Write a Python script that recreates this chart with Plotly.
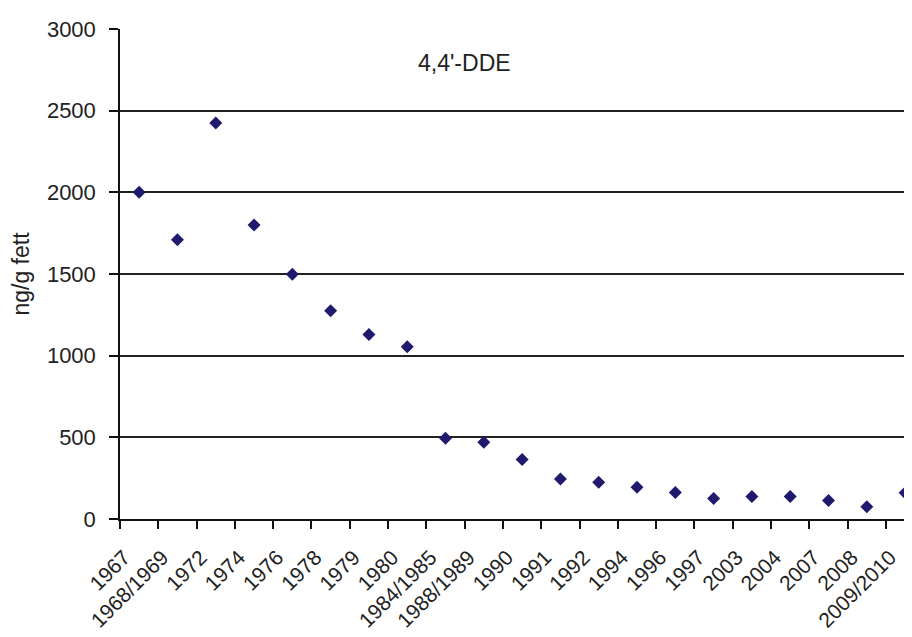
import plotly.graph_objects as go

categories = ["1967", "1968/1969", "1972", "1974", "1976", "1978", "1979", "1980",
              "1984/1985", "1988/1989", "1990", "1991", "1992", "1994", "1996", "1997",
              "2003", "2004", "2007", "2008", "2009/2010"]
dde_values = [2000, 1710, 2425, 1800, 1498, 1275, 1130, 1055,
              495, 470, 365, 245, 225, 195, 163, 125,
              137, 137, 113, 75, 160]
y_ticks = [0, 500, 1000, 1500, 2000, 2500, 3000]

FONT = "Liberation Sans, Arial, sans-serif"
TXT = "#222222"

fig = go.Figure()
fig.add_trace(go.Scatter(
    x=categories, y=dde_values, mode="markers",
    marker=dict(symbol="diamond", size=10, color="#1f1a6e", line=dict(width=0)),
    showlegend=False,
))

# page body has an 8px margin, so the figure is sized to end at the window edge
fig.update_layout(
    width=904, height=629,
    margin=dict(l=112, r=0, t=21, b=118, autoexpand=False),
    paper_bgcolor="white", plot_bgcolor="white",
    font=dict(family=FONT, size=21, color=TXT),
    xaxis=dict(
        type="category", categoryorder="array", categoryarray=categories,
        range=[-0.5, 20.18], automargin=False,
        showgrid=False, zeroline=False,
        showline=True, linecolor="#111111", linewidth=1.5,
        ticks="outside", tickson="boundaries", ticklen=8, tickwidth=1.5, tickcolor="#111111",
        tickangle=-45, tickfont=dict(family=FONT, size=21, color=TXT),
        ticklabelstandoff=16, ticklabelshift=-15,
    ),
    yaxis=dict(
        range=[0, 3000], tickvals=y_ticks, automargin=False,
        showgrid=True, gridcolor="#222222", gridwidth=1.5,
        zeroline=False,
        showline=True, linecolor="#111111", linewidth=1.5,
        ticks="outside", ticklen=9, tickwidth=1.5, tickcolor="#111111",
        tickfont=dict(family=FONT, size=22, color=TXT),
        ticklabelstandoff=9,
        title=dict(text="ng/g fett", font=dict(family=FONT, size=23, color=TXT), standoff=18),
    ),
    annotations=[dict(
        text="4,4'-DDE", x=(464 - 120) / 792, y=2790, xref="x domain", yref="y",
        showarrow=False, font=dict(family=FONT, size=23, color=TXT),
    )],
)

fig.write_html("out.html")
